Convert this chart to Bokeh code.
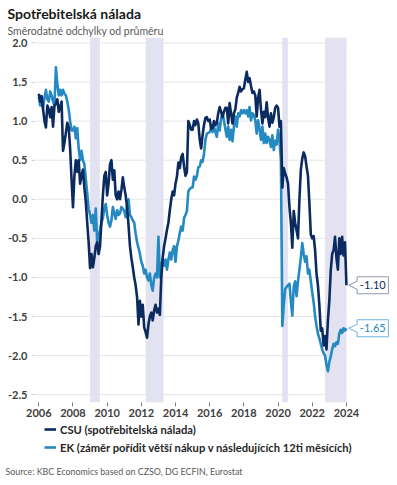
from bokeh.plotting import figure
from bokeh.layouts import column
from bokeh.models import (Range1d, FixedTicker, Label, Legend, LegendItem,
                          BoxAnnotation, PrintfTickFormatter, Title)
from bokeh.embed import file_html
from bokeh.resources import INLINE
import numpy as np

# ---------------- data ----------------
start_year = 2006
csu = [
    1.35, 1.25, 1.32, 1.15, 1.0, 0.92, 1.2, 1.15, 1.05, 1.18, 0.93, 1.2,
    1.22, 1.28, 1.12, 1.18, 1.25, 0.62, 0.72, 0.85, 0.98, 0.92, 0.65, 0.25,
    -0.1, 0.3, 0.5, 0.35, 0.5, 0.2, 0.3, 0.38, 0.15, -0.03, -0.3, -0.55,
    -0.88, -0.7, -0.87, -0.75, -0.6, -0.55, -0.7, -0.6, -0.27, 0.05, 0.3, 0.35,
    0.05, 0.2, 0.45, 0.5, 0.25, 0.37, 0.05, 0.0, 0.1, 0.0, 0.12, 0.28,
    0.15, 0.05, -0.1, -0.33, -0.6, -0.75, -0.87, -1.0, -1.1, -1.25, -1.6, -1.3,
    -1.5, -1.35, -1.64, -1.7, -1.77, -1.6, -1.5, -1.45, -1.55, -1.42, -1.35, -1.45,
    -1.4, -1.48, -1.0, -0.75, -0.6, -0.5, -0.39, -0.3, -0.14, 0.0, 0.1, 0.05,
    0.2, 0.29, 0.47, 0.4, 0.54, 0.58, 0.42, 0.3, 0.35, 1.0, 0.95, 0.89,
    0.89, 1.0, 0.95, 1.02, 0.97, 0.76, 0.65, 0.82, 0.95, 1.04, 1.05, 1.0,
    1.02, 0.9, 0.91, 1.0, 0.95, 0.98, 1.1, 1.18, 1.12, 1.05, 1.12, 1.17,
    1.17, 0.97, 1.23, 1.1, 0.97, 1.1, 1.15, 1.3, 1.36, 1.44, 1.38, 1.41,
    1.42, 1.53, 1.63, 1.5, 1.55, 1.45, 1.36, 1.38, 1.33, 1.06, 1.3, 1.4,
    1.15, 0.97, 1.12, 1.05, 1.24, 1.04, 0.93, 1.1, 0.98, 1.05, 1.17, 1.2,
    1.17, 0.93, 1.0, 0.15, 0.4, 0.33, 0.28, 0.2, -0.1, -0.3, -0.62, -0.15,
    -0.3, -0.4, -0.5, 0.0, 0.38, 0.52, 0.6, 0.55, 0.42, 0.3, -0.05, -0.45,
    -0.5, -0.47, -0.65, -0.95, -1.1, -1.35, -1.68, -1.65, -1.87, -1.75, -1.92, -1.55,
    -1.3, -0.91, -0.7, -0.65, -0.48, -0.75, -0.9, -0.5, -0.7, -0.48, -0.72, -0.55,
    -1.10,
]
ek = [
    1.31, 1.2, 1.25, 1.17, 1.3, 1.4, 1.28, 1.25, 1.38, 1.33, 1.25, 1.2,
    1.69, 1.48, 1.33, 1.4, 1.33, 1.4, 1.35, 1.33, 1.25, 1.15, 1.0, 0.88,
    0.88, 0.93, 0.78, 0.91, 0.65, 0.5, 0.62, 0.5, 0.45, 0.26, 0.08, -0.12,
    -0.2, -0.3, -0.2, -0.4, -0.12, -0.55, -0.46, -0.4, -0.3, -0.24, -0.12, -0.06,
    -0.2, -0.3, -0.35, -0.27, -0.1, -0.18, -0.25, -0.14, -0.2, -0.18, -0.1, -0.12,
    -0.15, -0.23, -0.06, 0.0, -0.2, -0.23, -0.27, -0.3, -0.44, -0.55, -0.62, -0.7,
    -0.8, -0.85, -0.95, -0.9, -1.0, -1.04, -0.95, -1.1, -1.17, -1.0, -0.95, -1.0,
    -0.48, -1.0, -0.85, -0.77, -0.85, -0.77, -0.9, -0.77, -0.68, -0.77, -0.65, -0.6,
    -0.8, -0.6, -0.53, -0.43, -0.35, -0.4, -0.24, -0.2, -0.15, 0.1, 0.13, 0.15,
    0.15, 0.29, 0.25, 0.3, 0.41, 0.42, 0.5, 0.48, 0.58, 0.76, 0.84, 0.85,
    0.86, 0.9, 0.86, 0.93, 0.86, 0.8, 0.97, 0.88, 1.03, 1.1, 1.01, 0.9,
    0.8, 0.93, 0.76, 0.89, 0.74, 0.93, 1.06, 0.93, 1.1, 1.06, 1.14, 1.1,
    1.14, 1.1, 1.14, 1.06, 1.18, 1.01, 1.1, 1.08, 1.01, 0.84, 1.01, 0.9,
    0.76, 0.93, 0.72, 0.84, 0.72, 0.8, 0.76, 0.67, 0.82, 0.63, 0.75, 0.7,
    0.89, 0.75, 0.5, -1.62, -1.35, -1.15, -1.12, -1.1, -1.08, -1.3, -1.49, -1.12,
    -1.05, -1.24, -1.05, -0.9, -0.75, -0.56, -0.7, -0.8, -0.73, -0.95, -0.9, -1.05,
    -1.19, -1.32, -1.5, -1.62, -1.72, -1.78, -1.85, -1.92, -1.97, -2.0, -2.12, -2.2,
    -2.08, -2.01, -1.92, -1.85, -1.88, -1.83, -1.85, -1.72, -1.67, -1.71, -1.65, -1.68,
    -1.65,
]
band_start = [2009.0, 2012.25, 2020.25, 2022.75]
band_end = [2009.57, 2013.3, 2020.57, 2024.0]
x_ticks = [2006, 2008, 2010, 2012, 2014, 2016, 2018, 2020, 2022, 2024]
y_ticks = [-2.5, -2.0, -1.5, -1.0, -0.5, 0.0, 0.5, 1.0, 1.5, 2.0]
series_names = ["CSU (spotřebitelská nálada)",
                "EK (záměr pořídit větší nákup v následujících 12ti měsících)"]
title_text = "Spotřebitelská nálada"
subtitle_text = "Směrodatné odchylky od průměru"
source_text = "Source: KBC Economics based on CZSO, DG ECFIN, Eurostat"

# ---------------- styling ----------------
C_CSU = "#0b2b60"
C_EK = "#2589c2"
FONT = "Lato"
W = 397
H_MAIN, H_LEG, H_SRC = 422, 41, 22
BL, BT, BB, BR = 34, 37, 20, 0
FW, FH = W - BL - BR, H_MAIN - BT - BB
PXX = 17.09
X0 = 2006 - 4.3 / PXX
X1 = X0 + FW / PXX
Y0, Y1 = -2.6, 2.07
PXY = FH / (Y1 - Y0)

months = np.arange(len(csu))
xs = start_year + months / 12.0

p = figure(width=W, height=H_MAIN, x_range=Range1d(X0, X1), y_range=Range1d(Y0, Y1),
           output_backend="svg", toolbar_location=None,
           min_border_left=BL, min_border_right=BR, min_border_top=BT,
           min_border_bottom=BB)
p.outline_line_color = None
p.xgrid.visible = False
p.ygrid.visible = False

# recession bands
for a, b in zip(band_start, band_end):
    p.add_layout(BoxAnnotation(left=a, right=b, fill_color="#e2e2f1",
                               fill_alpha=1.0, line_color=None, level="underlay"))

# grid lines (end at the last data point)
x_last = xs[-1]
p.segment(x0=[X0] * len(y_ticks), y0=y_ticks, x1=[x_last + 0.05] * len(y_ticks),
          y1=y_ticks, line_color="#e6e6e6", line_width=1, level="underlay")

r_ek = p.line(xs, ek, line_color=C_EK, line_width=2.6, line_join="round")
r_csu = p.line(xs, csu, line_color=C_CSU, line_width=2.6, line_join="round")

# axes
p.xaxis.ticker = FixedTicker(ticks=x_ticks)
p.xaxis.axis_line_color = None
p.xaxis.major_tick_out = 4
p.xaxis.major_tick_in = 0
p.xaxis.major_tick_line_color = "#7f7f7f"
p.xaxis.minor_tick_line_color = None
p.xaxis.major_label_standoff = 2
p.yaxis.ticker = FixedTicker(ticks=y_ticks)
p.yaxis.formatter = PrintfTickFormatter(format="%.1f")
p.yaxis.axis_line_color = None
p.yaxis.major_tick_out = 3
p.yaxis.major_tick_in = 0
p.yaxis.major_tick_line_color = "#d0d0d0"
p.yaxis.minor_tick_line_color = None
p.yaxis.major_label_standoff = 4
for ax in (p.xaxis, p.yaxis):
    ax.major_label_text_font = FONT
    ax.major_label_text_font_style = "bold"
    ax.major_label_text_font_size = "11px"
    ax.major_label_text_color = "#404040"

# end-value callouts
tip_off = 2.3 / PXX
box_l = 10.7 / PXX
box_r = 42.0 / PXX
half_h = 8.5 / PXY
ptr = 4.0 / PXY
for vals, col, border in ((csu, C_CSU, "#8f99ab"), (ek, C_EK, "#6fb3dc")):
    v = vals[-1]
    xt = x_last + tip_off
    xl = x_last + box_l
    xr = x_last + box_r
    p.patch([xt, xl, xl, xr, xr, xl, xl],
            [v, v + ptr, v + half_h, v + half_h, v - half_h, v - half_h, v - ptr],
            fill_color="white", line_color=border, line_width=1)
    p.add_layout(Label(x=(xl + xr) / 2, y=v, text=f"{v:.2f}", text_align="center",
                       text_baseline="middle", text_font=FONT, text_font_size="11px",
                       text_color=col))

# titles (subtitle first: it sits closer to the plot)
p.add_layout(Title(text=subtitle_text, align="left", offset=-27, standoff=2,
                   text_font=FONT, text_font_style="normal", text_font_size="10.5px",
                   text_color="#595959"), "above")
p.add_layout(Title(text=title_text, align="left", offset=-27, standoff=0,
                   text_font=FONT, text_font_style="bold", text_font_size="14px",
                   text_color="#1a1a1a"), "above")

# ---------------- legend strip ----------------
f = figure(width=W, height=H_LEG, x_range=Range1d(0, FW), y_range=Range1d(0, H_LEG),
           output_backend="svg", toolbar_location=None, x_axis_type=None,
           y_axis_type=None, min_border_left=BL, min_border_right=BR,
           min_border_top=0, min_border_bottom=0)
f.outline_line_color = None
# legend swatches: the two series (outside this strip's visible range)
g_csu = f.line(xs, csu, line_color=C_CSU, line_width=2.6)
g_ek = f.line(xs, ek, line_color=C_EK, line_width=2.6)
legend = Legend(items=[LegendItem(label=series_names[0], renderers=[g_csu]),
                       LegendItem(label=series_names[1], renderers=[g_ek])],
                location=(10, 9), orientation="vertical", padding=0, margin=0,
                spacing=4, border_line_color=None, background_fill_alpha=0,
                label_text_font=FONT, label_text_font_style="bold",
                label_text_font_size="11.2px", label_text_color="#262626",
                glyph_width=12, glyph_height=14, label_height=14, label_standoff=4)
f.add_layout(legend)

# ---------------- source strip ----------------
s = figure(width=W, height=H_SRC, x_range=Range1d(0, 1), y_range=Range1d(0, 1),
           output_backend="svg", toolbar_location=None, x_axis_type=None,
           y_axis_type=None, min_border_left=BL, min_border_right=BR,
           min_border_top=0, min_border_bottom=0)
s.outline_line_color = None
s.add_layout(Title(text=source_text, align="left", offset=-29, standoff=0,
                   text_font=FONT, text_font_style="normal", text_font_size="8.9px",
                   text_color="#595959"), "above")

open("out.html", "w").write(file_html(column(p, f, s, spacing=0), INLINE))
